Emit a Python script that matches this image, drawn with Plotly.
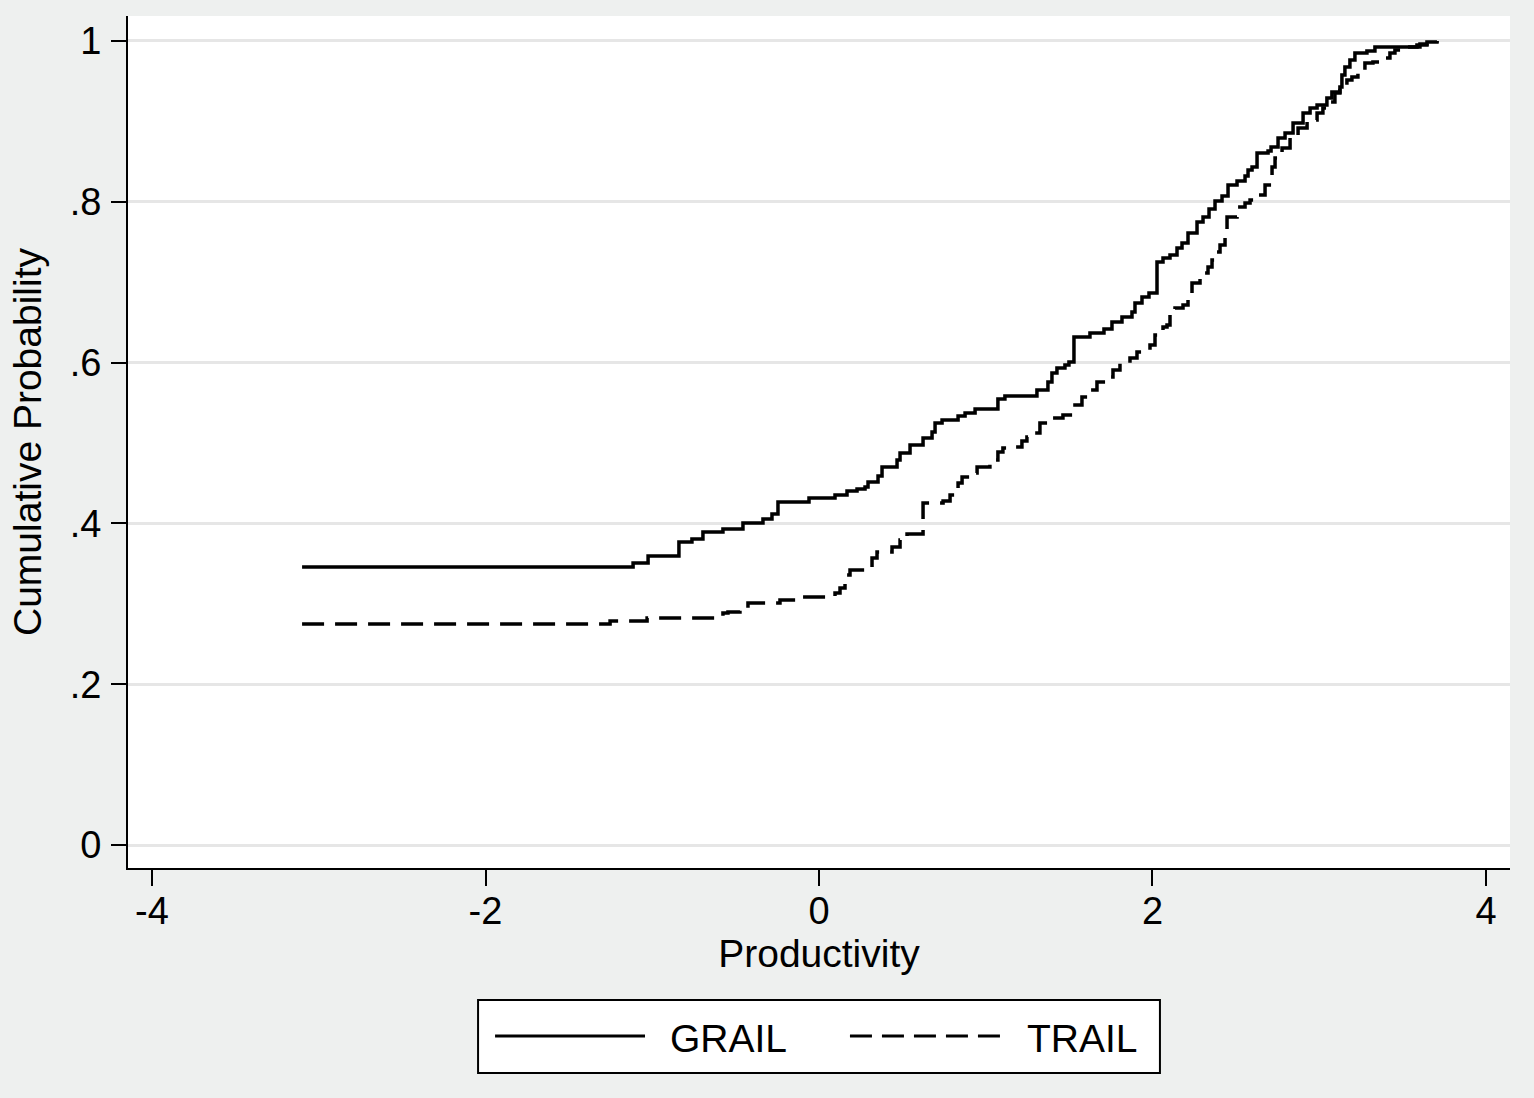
import plotly.graph_objects as go

# GRAIL empirical CDF (step starts)
grail_x = [-3.100, -1.115, -1.025, -0.840, -0.762, -0.696, -0.576, -0.456, -0.336, -0.282,
           -0.246, -0.060, 0.096, 0.168, 0.228, 0.276, 0.294, 0.354, 0.378, 0.468,
           0.486, 0.546, 0.624, 0.678, 0.696, 0.738, 0.834, 0.876, 0.936, 1.073,
           1.115, 1.307, 1.373, 1.397, 1.427, 1.475, 1.499, 1.529, 1.625, 1.709,
           1.757, 1.817, 1.877, 1.895, 1.937, 1.979, 2.027, 2.063, 2.105, 2.147,
           2.177, 2.213, 2.267, 2.303, 2.339, 2.375, 2.417, 2.453, 2.507, 2.555,
           2.573, 2.597, 2.627, 2.693, 2.711, 2.753, 2.795, 2.843, 2.903, 2.945,
           2.987, 3.046, 3.076, 3.124, 3.136, 3.154, 3.184, 3.214, 3.286, 3.334,
           3.604, 3.646, 3.706]
grail_p = [0.3458, 0.3507, 0.3595, 0.3769, 0.3806, 0.3893, 0.3930, 0.4005, 0.4055, 0.4117,
           0.4266, 0.4316, 0.4353, 0.4403, 0.4428, 0.4453, 0.4515, 0.4590, 0.4701, 0.4789,
           0.4876, 0.4975, 0.5062, 0.5137, 0.5249, 0.5286, 0.5336, 0.5373, 0.5423, 0.5547,
           0.5585, 0.5659, 0.5759, 0.5871, 0.5933, 0.5970, 0.6007, 0.6318, 0.6368, 0.6418,
           0.6505, 0.6567, 0.6629, 0.6741, 0.6816, 0.6866, 0.7251, 0.7301, 0.7338, 0.7425,
           0.7488, 0.7612, 0.7749, 0.7811, 0.7910, 0.8010, 0.8072, 0.8209, 0.8259, 0.8321,
           0.8396, 0.8433, 0.8607, 0.8632, 0.8682, 0.8794, 0.8856, 0.8980, 0.9104, 0.9167,
           0.9204, 0.9291, 0.9366, 0.9428, 0.9577, 0.9677, 0.9764, 0.9851, 0.9876, 0.9925,
           0.9963, 0.9988, 1.0]

# TRAIL empirical CDF (step starts)
trail_x = [-3.100, -1.253, -1.031, -0.576, -0.546, -0.474, -0.426, -0.234, -0.114, 0.096,
           0.126, 0.156, 0.186, 0.294, 0.318, 0.348, 0.438, 0.486, 0.528, 0.624,
           0.744, 0.786, 0.834, 0.858, 0.906, 0.948, 1.025, 1.073, 1.103, 1.163,
           1.217, 1.247, 1.307, 1.325, 1.397, 1.463, 1.535, 1.577, 1.613, 1.667,
           1.727, 1.763, 1.805, 1.865, 1.907, 1.937, 1.985, 2.015, 2.033, 2.063,
           2.087, 2.105, 2.135, 2.183, 2.213, 2.237, 2.285, 2.333, 2.357, 2.375,
           2.405, 2.435, 2.447, 2.507, 2.555, 2.585, 2.627, 2.675, 2.717, 2.735,
           2.777, 2.825, 2.873, 2.927, 2.987, 3.022, 3.064, 3.094, 3.124, 3.166,
           3.196, 3.232, 3.274, 3.322, 3.382, 3.424, 3.454, 3.502, 3.586, 3.646,
           3.706]
trail_p = [0.2749, 0.2786, 0.2823, 0.2886, 0.2898, 0.2948, 0.3010, 0.3047, 0.3085, 0.3134,
           0.3197, 0.3358, 0.3420, 0.3458, 0.3570, 0.3644, 0.3706, 0.3794, 0.3868, 0.4254,
           0.4279, 0.4353, 0.4502, 0.4577, 0.4627, 0.4701, 0.4789, 0.4888, 0.4938, 0.4950,
           0.5025, 0.5075, 0.5124, 0.5249, 0.5311, 0.5348, 0.5473, 0.5572, 0.5659, 0.5759,
           0.5821, 0.5908, 0.5995, 0.6057, 0.6132, 0.6157, 0.6219, 0.6343, 0.6368, 0.6443,
           0.6468, 0.6617, 0.6679, 0.6716, 0.6828, 0.6990, 0.7114, 0.7189, 0.7276, 0.7376,
           0.7463, 0.7649, 0.7811, 0.7935, 0.7985, 0.8022, 0.8085, 0.8209, 0.8433, 0.8545,
           0.8669, 0.8806, 0.8918, 0.9017, 0.9104, 0.9167, 0.9241, 0.9353, 0.9415, 0.9515,
           0.9552, 0.9614, 0.9726, 0.9739, 0.9789, 0.9851, 0.9888, 0.9925, 0.9950, 0.9975,
           1.0]

x_tickvals = [-4, -2, 0, 2, 4]
x_ticktext = ["-4", "-2", "0", "2", "4"]
y_tickvals = [0, 0.2, 0.4, 0.6, 0.8, 1]
y_ticktext = ["0", ".2", ".4", ".6", ".8", "1"]
series_names = ["GRAIL", "TRAIL"]

FONT = "Liberation Sans, Arial, Helvetica, sans-serif"
BG = "#eef0ef"

fig = go.Figure()
fig.add_trace(go.Scatter(x=grail_x, y=grail_p, mode="lines", line_shape="hv",
                         line=dict(color="black", width=3.5), name=series_names[0],
                         showlegend=False))
fig.add_trace(go.Scatter(x=trail_x, y=trail_p, mode="lines", line_shape="hv",
                         line=dict(color="black", width=3.5, dash="22px,11px"),
                         name=series_names[1], showlegend=False))

# Manual legend (Stata style)
shapes = [
    dict(type="rect", xref="paper", yref="paper", x0=0.2533, x1=0.7467, y0=-0.2406, y1=-0.1549,
         line=dict(color="black", width=2), fillcolor="white", layer="above"),
    dict(type="line", xref="paper", yref="paper", x0=0.2656, x1=0.3741, y0=-0.1972, y1=-0.1972,
         line=dict(color="black", width=3)),
    dict(type="line", xref="paper", yref="paper", x0=0.5224, x1=0.6310, y0=-0.1972, y1=-0.1972,
         line=dict(color="black", width=3, dash="22px,10px")),
]
annotations = [
    dict(xref="paper", yref="paper", x=0.3907, y=-0.2005, text=series_names[0], showarrow=False,
         xanchor="left", yanchor="middle", font=dict(family=FONT, size=39, color="black")),
    dict(xref="paper", yref="paper", x=0.6491, y=-0.2005, text=series_names[1], showarrow=False,
         xanchor="left", yanchor="middle", font=dict(family=FONT, size=39, color="black")),
]

fig.update_layout(
    width=1534, height=1098,
    margin=dict(l=128, r=24, t=16, b=230),
    paper_bgcolor=BG, plot_bgcolor="white",
    font=dict(family=FONT, size=38, color="black"),
    shapes=shapes, annotations=annotations,
    showlegend=False,
)
fig.update_xaxes(
    range=[-4.144, 4.144], tickvals=x_tickvals, ticktext=x_ticktext,
    showgrid=False, zeroline=False, showline=True, linecolor="black", linewidth=2,
    ticks="outside", ticklen=16, tickwidth=2, tickcolor="black",
    tickfont=dict(size=38), ticklabelstandoff=-8,
    title=dict(text="Productivity", font=dict(size=39), standoff=6),
)
fig.update_yaxes(
    range=[-0.0286, 1.031], tickvals=y_tickvals, ticktext=y_ticktext,
    showgrid=True, gridcolor="#e6e6e6", gridwidth=2.5, zeroline=False,
    showline=True, linecolor="black", linewidth=2,
    ticks="outside", ticklen=15, tickwidth=2, tickcolor="black",
    tickfont=dict(size=38), ticklabelstandoff=2,
    title=dict(text="Cumulative Probability", font=dict(size=39), standoff=16),
)

fig.write_html(
    "out.html",
    config={"displayModeBar": False},
    post_script="document.body.style.margin='0';document.body.style.background='" + BG + "';",
)
